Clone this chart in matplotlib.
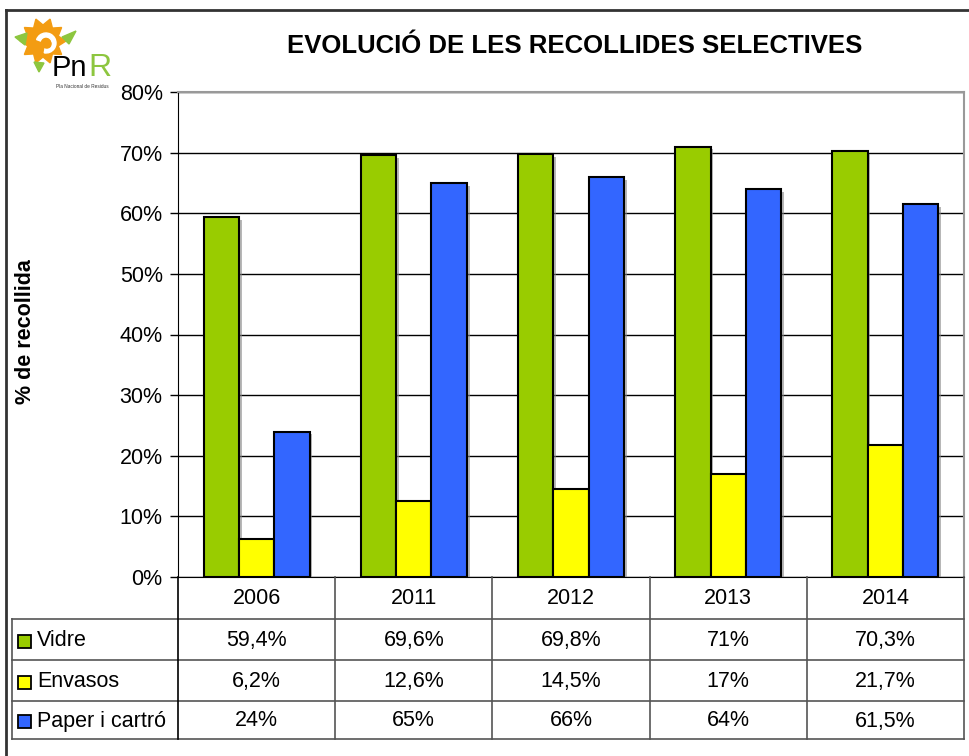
import matplotlib
matplotlib.use("Agg")
import matplotlib.pyplot as plt
import numpy as np
from matplotlib.lines import Line2D
from matplotlib.patches import Rectangle, Polygon, Circle, Wedge
import matplotlib.patheffects as pe

plt.rcParams['font.family'] = ['Liberation Sans', 'DejaVu Sans']

years = ['2006', '2011', '2012', '2013', '2014']
series_names = ['Vidre', 'Envasos', 'Paper i cartró']
vidre = [59.4, 69.6, 69.8, 71, 70.3]
envasos = [6.2, 12.6, 14.5, 17, 21.7]
paper = [24, 65, 66, 64, 61.5]
colors = ['#99CC00', '#FFFF00', '#3366FF']
yticks = [0, 10, 20, 30, 40, 50, 60, 70, 80]

W, H = 970, 756
fig = plt.figure(figsize=(W / 100, H / 100), dpi=100)

def fx(px):
    return px / W

def fy(py):
    return 1 - py / H

FS = 15.5
L, R, T, B = 178, 964, 92, 577
ax = fig.add_axes([fx(L), fy(B), fx(R - L), fy(T) - fy(B)])

x = np.arange(len(years))
bw = 0.225
shadow = [pe.SimplePatchShadow(offset=(2, -2), shadow_rgbFace='#888888', alpha=0.6), pe.Normal()]
for k, (vals, col) in enumerate(zip([vidre, envasos, paper], colors)):
    bars = ax.bar(x + (k - 1) * bw, vals, bw, color=col, edgecolor='black', linewidth=1.5, zorder=3)
    for b in bars:
        b.set_path_effects(shadow)

ax.set_xlim(-0.5, len(years) - 0.5)
ax.set_ylim(0, 80)
ax.set_yticks(yticks)
ax.set_yticklabels([f'{t}%' for t in yticks], fontsize=FS)
ax.set_xticks([])
ax.grid(axis='y', color='black', linewidth=1, zorder=0)
ax.tick_params(axis='y', length=6, width=1, pad=5)
for s in ['top', 'right']:
    ax.spines[s].set_color('#999999')
    ax.spines[s].set_linewidth(1.5)
ax.spines['left'].set_color('black')
ax.spines['bottom'].set_color('black')

fig.text(fx(26), fy(332), '% de recollida', rotation=90, fontsize=FS, fontweight='bold',
         ha='center', va='center')
fig.text(fx(575), fy(46), 'EVOLUCIÓ DE LES RECOLLIDES SELECTIVES', fontsize=18.5,
         fontweight='bold', ha='center', va='center')

# Data table
tcol = '#555555'
row_y = [577, 619, 660, 701, 739]
col_x = [L + (R - L) * i / len(years) for i in range(len(years) + 1)]
def hline(x0, x1, y, c=tcol, lw=1.2):
    fig.add_artist(Line2D([fx(x0), fx(x1)], [fy(y), fy(y)], color=c, lw=lw))
def vline(xp, y0, y1, c=tcol, lw=1.2):
    fig.add_artist(Line2D([fx(xp), fx(xp)], [fy(y0), fy(y1)], color=c, lw=lw))

for i, yy in enumerate(row_y[1:]):
    hline(12, R, yy)
vline(12, row_y[1], row_y[-1])
vline(L, row_y[0], row_y[-1], c='black')
for cx in col_x[1:]:
    vline(cx, row_y[0], row_y[-1])

def fmt(v):
    return f'{v:g}'.replace('.', ',') + '%'

for j, yr in enumerate(years):
    cx = (col_x[j] + col_x[j + 1]) / 2
    fig.text(fx(cx), fy((row_y[0] + row_y[1]) / 2 + 1), yr, fontsize=FS, ha='center', va='center')
for r, (name, vals, col) in enumerate(zip(series_names, [vidre, envasos, paper], colors)):
    yc = (row_y[r + 1] + row_y[r + 2]) / 2 + 1
    fig.add_artist(Rectangle((fx(18), fy(yc + 7)), fx(13), fy(0) - fy(13),
                             facecolor=col, edgecolor='black', lw=1.3))
    fig.text(fx(37), fy(yc), name, fontsize=FS, ha='left', va='center')
    for j, v in enumerate(vals):
        cx = (col_x[j] + col_x[j + 1]) / 2
        fig.text(fx(cx), fy(yc), fmt(v), fontsize=FS, ha='center', va='center')

# outer frame
hline(6, W, 10, c='#333333', lw=2)
vline(6, 10, H, c='#333333', lw=2)

# logo (data coordinates equal picture pixels)
lax = fig.add_axes([fx(8), fy(92), fx(110), fy(12) - fy(92)])
lax.set_xlim(8, 118)
lax.set_ylim(92, 12)
lax.set_aspect('equal')
lax.axis('off')
cx0, cy0 = 43, 41
n = 10
pts = []
for i in range(2 * n):
    a = np.pi * i / n
    rr = 23 if i % 2 == 0 else 16
    pts.append((cx0 + rr * np.cos(a), cy0 + rr * np.sin(a)))
lax.add_patch(Polygon(pts, closed=True, color='#F39C12'))
lax.add_patch(Wedge((cx0 + 3, cy0 + 2), 10, 200, 100, width=4, color='white'))
lax.add_patch(Circle((cx0 + 4, cy0 + 3), 4, color='#F39C12'))
lax.add_patch(Polygon([(15, 37), (27, 33), (25, 45)], color='#8DC63F'))
lax.add_patch(Polygon([(62, 37), (76, 31), (69, 44)], color='#8DC63F'))
lax.add_patch(Polygon([(34, 62), (44, 63), (39, 72)], color='#8DC63F'))
lax.text(52, 76, 'Pn', fontsize=21, color='black', ha='left', va='baseline')
lax.text(88, 76, 'R', fontsize=23, color='#8DC63F', ha='left', va='baseline')
lax.text(56, 86, 'Pla Nacional de Residus', fontsize=3.4, color='#333333', ha='left', va='center')

fig.savefig('out.png', dpi=100)
